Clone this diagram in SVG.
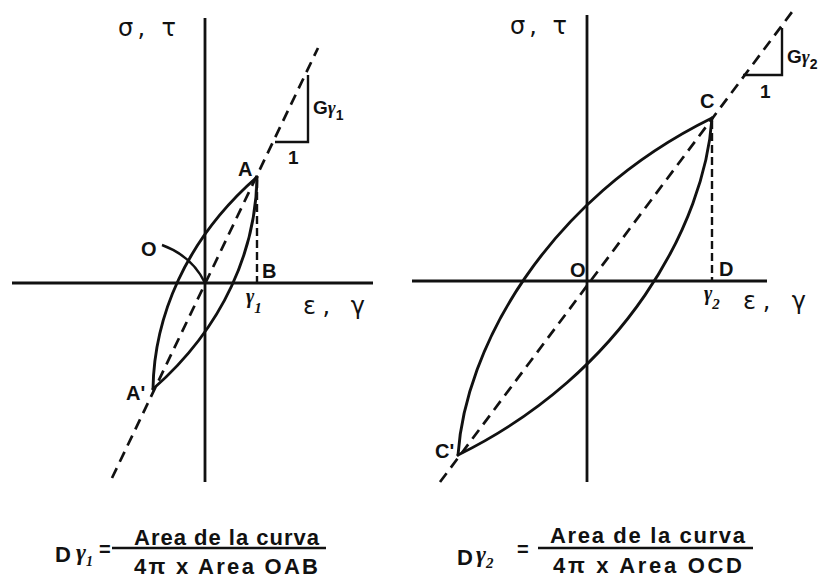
<svg xmlns="http://www.w3.org/2000/svg" width="822" height="578" viewBox="0 0 822 578">
<style>
.ax{stroke:#111;stroke-width:2.8;fill:none}
.cv{stroke:#111;stroke-width:2.9;fill:none;stroke-linecap:round}
.ds{stroke:#111;stroke-width:2.7;fill:none;stroke-dasharray:11 7}
.dv{stroke:#111;stroke-width:2.4;fill:none;stroke-dasharray:8 4}
.th{stroke:#111;stroke-width:2.4;fill:none}
.lb{font-family:"Liberation Sans",Arial,sans-serif;font-weight:bold;fill:#111}
.gk{font-family:"DejaVu Sans","Liberation Sans",sans-serif;fill:#111}
.gi{font-family:"Liberation Serif","DejaVu Serif",serif;font-style:italic;font-weight:bold;fill:#111}
</style>
<rect width="822" height="578" fill="#fff"/>
<g id="left-plot">
  <line class="ax" x1="205" y1="18" x2="205" y2="482"/>
  <line class="ax" x1="12" y1="283" x2="373" y2="283"/>
  <line class="ds" x1="112" y1="478" x2="318" y2="48"/>
  <path class="cv" d="M153,389 C154,318 185,240 257,177"/>
  <path class="cv" d="M257,177 C256,248 225,326 153,389"/>
  <line class="dv" x1="257" y1="180" x2="257" y2="283"/>
  <polyline class="th" points="308,75 308,142 275,142"/>
  <path class="th" d="M162,245 Q192,256 205,283"/>
  <text class="gk" x="118" y="36" font-size="24" textLength="58">σ, τ</text>
  <text class="gk" x="303" y="314" font-size="24" textLength="62">ε, γ</text>
  <text class="lb" x="238" y="176" font-size="20">A</text>
  <text class="lb" x="141" y="256" font-size="20">O</text>
  <text class="lb" x="262" y="278" font-size="20">B</text>
  <text class="lb" x="126" y="400" font-size="20">A'</text>
  <text class="gi" x="246" y="303" font-size="20">γ<tspan font-size="15" dy="10">1</tspan></text>
  <text class="lb" x="313" y="114" font-size="19">G<tspan class="gi" font-size="19">γ</tspan><tspan font-size="14" dy="6">1</tspan></text>
  <text class="lb" x="288" y="164" font-size="19">1</text>
</g>
<g id="left-formula">
  <text class="lb" x="55" y="562" font-size="22">D</text>
  <text class="gi" x="76" y="560" font-size="24">γ<tspan font-size="14" dy="6">1</tspan></text>
  <text class="lb" x="99" y="556" font-size="20">=</text>
  <line class="th" x1="112" y1="548" x2="326" y2="548"/>
  <text class="lb" x="134" y="545" font-size="22" textLength="185">Area de la curva</text>
  <text class="lb" x="134" y="574" font-size="22" textLength="184">4π x Area OAB</text>
</g>
<g id="right-plot">
  <line class="ax" x1="587" y1="15" x2="587" y2="482"/>
  <line class="ax" x1="412" y1="281" x2="767" y2="281"/>
  <line class="ds" x1="440" y1="482" x2="792" y2="12"/>
  <path class="cv" d="M458,455 C465,350 545,200 712,118"/>
  <path class="cv" d="M712,118 C705,223 625,373 458,455"/>
  <line class="dv" x1="712" y1="121" x2="712" y2="281"/>
  <polyline class="th" points="782,28 782,75 743,75"/>
  <text class="gk" x="510" y="34" font-size="24" textLength="57">σ, τ</text>
  <text class="gk" x="743" y="309" font-size="24" textLength="63">ε, γ</text>
  <text class="lb" x="700" y="108" font-size="20">C</text>
  <text class="lb" x="570" y="277" font-size="20">O</text>
  <text class="lb" x="719" y="276" font-size="20">D</text>
  <text class="lb" x="435" y="458" font-size="20">C'</text>
  <text class="gi" x="704" y="300" font-size="20">γ<tspan font-size="15" dy="9">2</tspan></text>
  <text class="lb" x="787" y="63" font-size="19">G<tspan class="gi" font-size="19">γ</tspan><tspan font-size="14" dy="6">2</tspan></text>
  <text class="lb" x="760" y="98" font-size="19">1</text>
</g>
<g id="right-formula">
  <text class="lb" x="457" y="565" font-size="22">D</text>
  <text class="gi" x="476" y="562" font-size="24">γ<tspan font-size="15" dy="6">2</tspan></text>
  <text class="lb" x="517" y="556" font-size="20">=</text>
  <line class="th" x1="538" y1="548" x2="753" y2="548"/>
  <text class="lb" x="550" y="543" font-size="22" textLength="195">Area de la curva</text>
  <text class="lb" x="553" y="573" font-size="22" textLength="189">4π x Area OCD</text>
</g>
</svg>
